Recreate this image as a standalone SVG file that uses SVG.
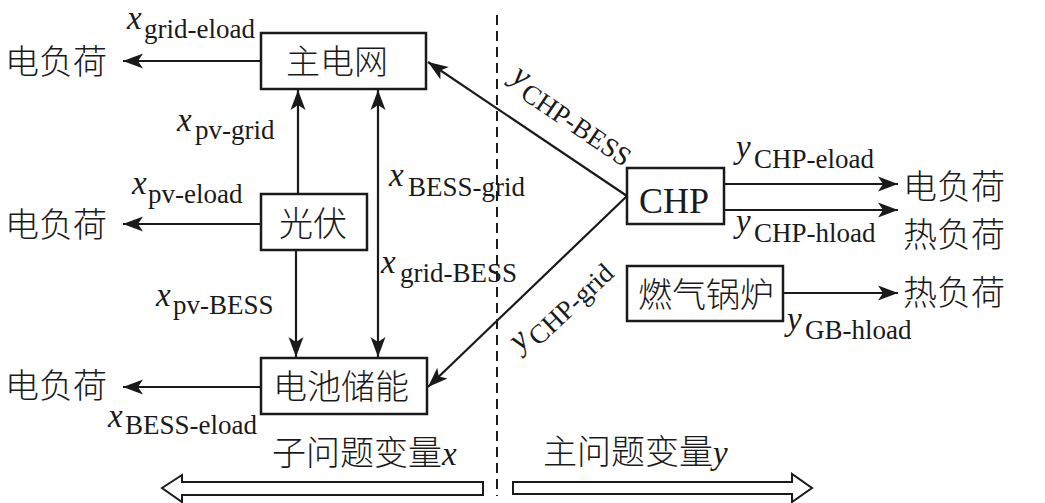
<svg xmlns="http://www.w3.org/2000/svg" width="1045" height="503" viewBox="0 0 1045 503">
<defs>
<marker id="ah" markerUnits="userSpaceOnUse" markerWidth="22" markerHeight="16" refX="20" refY="7.5" orient="auto" overflow="visible">
<path d="M0,0 L20,7.5 L0,15 L5,7.5 Z" fill="#1a1a1a"/>
</marker>
<marker id="ahs" markerUnits="userSpaceOnUse" markerWidth="22" markerHeight="16" refX="20" refY="7.5" orient="auto-start-reverse" overflow="visible">
<path d="M0,0 L20,7.5 L0,15 L5,7.5 Z" fill="#1a1a1a"/>
</marker>
</defs>
<style>
.box{fill:#fff;stroke:#1a1a1a;stroke-width:2.5}
.cn{font-family:"Noto Sans CJK SC",sans-serif;font-size:34px;font-weight:300;fill:#1a1a1a}
.lat{font-family:"Liberation Serif",serif;font-size:36px;fill:#1a1a1a}
.v{font-family:"Liberation Serif",serif;font-style:italic;font-size:33px;fill:#1a1a1a}
.s{font-family:"Liberation Serif",serif;font-style:normal;font-size:27px}
.ln{stroke:#1a1a1a;stroke-width:2.2;fill:none}
.dash{stroke:#1a1a1a;stroke-width:2;stroke-dasharray:10 6;fill:none}
.hollow{fill:#fff;stroke:#1a1a1a;stroke-width:2}
</style>
<rect width="1045" height="503" fill="#fff"/>

<g id="connectors">
<line class="ln" x1="261" y1="61" x2="123" y2="61" marker-end="url(#ah)"/>
<line class="ln" x1="261" y1="224" x2="123" y2="224" marker-end="url(#ah)"/>
<line class="ln" x1="261" y1="387" x2="123" y2="387" marker-end="url(#ah)"/>
<line class="ln" x1="298" y1="194" x2="298" y2="90" marker-end="url(#ah)"/>
<line class="ln" x1="296" y1="250" x2="296" y2="357" marker-end="url(#ah)"/>
<line class="ln" x1="378" y1="357" x2="378" y2="90" marker-start="url(#ahs)" marker-end="url(#ah)"/>
<line class="ln" x1="627" y1="196" x2="428" y2="62" marker-end="url(#ah)"/>
<line class="ln" x1="627" y1="196" x2="428" y2="387" marker-end="url(#ah)"/>
<line class="ln" x1="724" y1="184" x2="898" y2="184" marker-end="url(#ah)"/>
<line class="ln" x1="724" y1="210" x2="898" y2="210" marker-end="url(#ah)"/>
<line class="ln" x1="783" y1="293" x2="898" y2="293" marker-end="url(#ah)"/>
<line class="dash" x1="497" y1="15" x2="497" y2="496"/>
<polygon class="hollow" points="162,488 182,475 182,482 483,482 483,495 182,495 182,502"/>
<polygon class="hollow" points="513,482 792,482 792,474 812,488 792,502 792,494 513,494"/>
</g>

<g id="grid">
<rect class="box" x="261" y="33" width="165" height="56"/>
<text class="cn" x="286" y="74">主电网</text>
</g>
<g id="pv">
<rect class="box" x="261" y="194" width="106" height="56"/>
<text class="cn" x="279" y="236">光伏</text>
</g>
<g id="bess">
<rect class="box" x="261" y="358" width="166" height="56"/>
<text class="cn" x="273" y="399">电池储能</text>
</g>
<g id="chp">
<rect class="box" x="627" y="168" width="97" height="56"/>
<text class="lat" x="639" y="213">CHP</text>
</g>
<g id="gb">
<rect class="box" x="627" y="266" width="156" height="55"/>
<text class="cn" x="638" y="307">燃气锅炉</text>
</g>

<g id="loads">
<text class="cn" x="5" y="74">电负荷</text>
<text class="cn" x="5" y="237">电负荷</text>
<text class="cn" x="5" y="398">电负荷</text>
<text class="cn" x="903" y="199">电负荷</text>
<text class="cn" x="903" y="247">热负荷</text>
<text class="cn" x="903" y="305">热负荷</text>
</g>

<g id="labels">
<text class="v" x="127" y="29">x<tspan class="s" x="144" y="38">grid-eload</tspan></text>
<text class="v" x="177" y="131">x<tspan class="s" x="195" y="139">pv-grid</tspan></text>
<text class="v" x="132" y="194">x<tspan class="s" x="148" y="203">pv-eload</tspan></text>
<text class="v" x="389" y="186">x<tspan class="s" x="408" y="196">BESS-grid</tspan></text>
<text class="v" x="381" y="273">x<tspan class="s" x="400" y="282">grid-BESS</tspan></text>
<text class="v" x="156" y="306">x<tspan class="s" x="173" y="314">pv-BESS</tspan></text>
<text class="v" x="108" y="427">x<tspan class="s" x="125" y="434">BESS-eload</tspan></text>
<text class="v" x="736" y="158">y<tspan class="s" x="754" y="168">CHP-eload</tspan></text>
<text class="v" x="736" y="232">y<tspan class="s" x="754" y="242">CHP-hload</tspan></text>
<text class="v" x="787" y="330">y<tspan class="s" x="805" y="339">GB-hload</tspan></text>
<text class="v" transform="translate(510,80) rotate(34)" x="0" y="0">y<tspan class="s" x="17" y="9">CHP-BESS</tspan></text>
<text class="v" transform="translate(520,352) rotate(-43)" x="0" y="0">y<tspan class="s" x="17" y="9">CHP-grid</tspan></text>
<text class="cn" x="272" y="465">子问题变量<tspan class="v">x</tspan></text>
<text class="cn" x="543" y="464">主问题变量<tspan class="v">y</tspan></text>
</g>
</svg>
